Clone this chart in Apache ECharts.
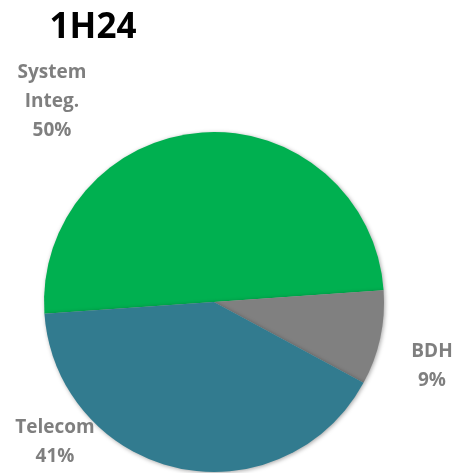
<!DOCTYPE html>
<html><head><meta charset="utf-8">
<script src="https://cdn.jsdelivr.net/npm/echarts@6/dist/echarts.min.js"></script>
<style>html,body{margin:0;padding:0;background:#fff}#c{width:458px;height:473px}</style>
</head><body><div id="c"></div>
<script>
const title = '1H24';
const categories = ['System\nInteg.', 'BDH', 'Telecom'];
const values = [50, 9, 41];
const colors = ['#00B050', '#808080', '#327B8F'];
const labelPos = [[52, 102], [432, 366], [55, 442]];

const chart = echarts.init(document.getElementById('c'));
chart.setOption({
  animation: false,
  title: {
    text: title, left: 88, top: 6, textAlign: 'center',
    textStyle: { fontFamily: 'Open Sans', fontWeight: 'bold', fontSize: 35, color: '#000' }
  },
  series: [{
    type: 'pie',
    center: [214, 302],
    radius: 170,
    startAngle: 184,
    clockwise: true,
    data: categories.map((c, i) => ({ name: c, value: values[i], itemStyle: { color: colors[i] } })),
    itemStyle: { shadowBlur: 4, shadowColor: 'rgba(0,0,0,0.35)', shadowOffsetX: 1, shadowOffsetY: 1 },
    label: {
      show: true, position: 'outside', overflow: 'none',
      formatter: p => p.name + '\n' + p.value + '%',
      fontFamily: 'Open Sans', fontWeight: 'bold', fontSize: 19, lineHeight: 29,
      color: '#7F7F7F', align: 'center'
    },
    labelLine: { show: false },
    labelLayout: p => ({ x: labelPos[p.dataIndex][0], y: labelPos[p.dataIndex][1], align: 'center', verticalAlign: 'middle' }),
    emphasis: { disabled: true }
  }]
});
</script></body></html>
